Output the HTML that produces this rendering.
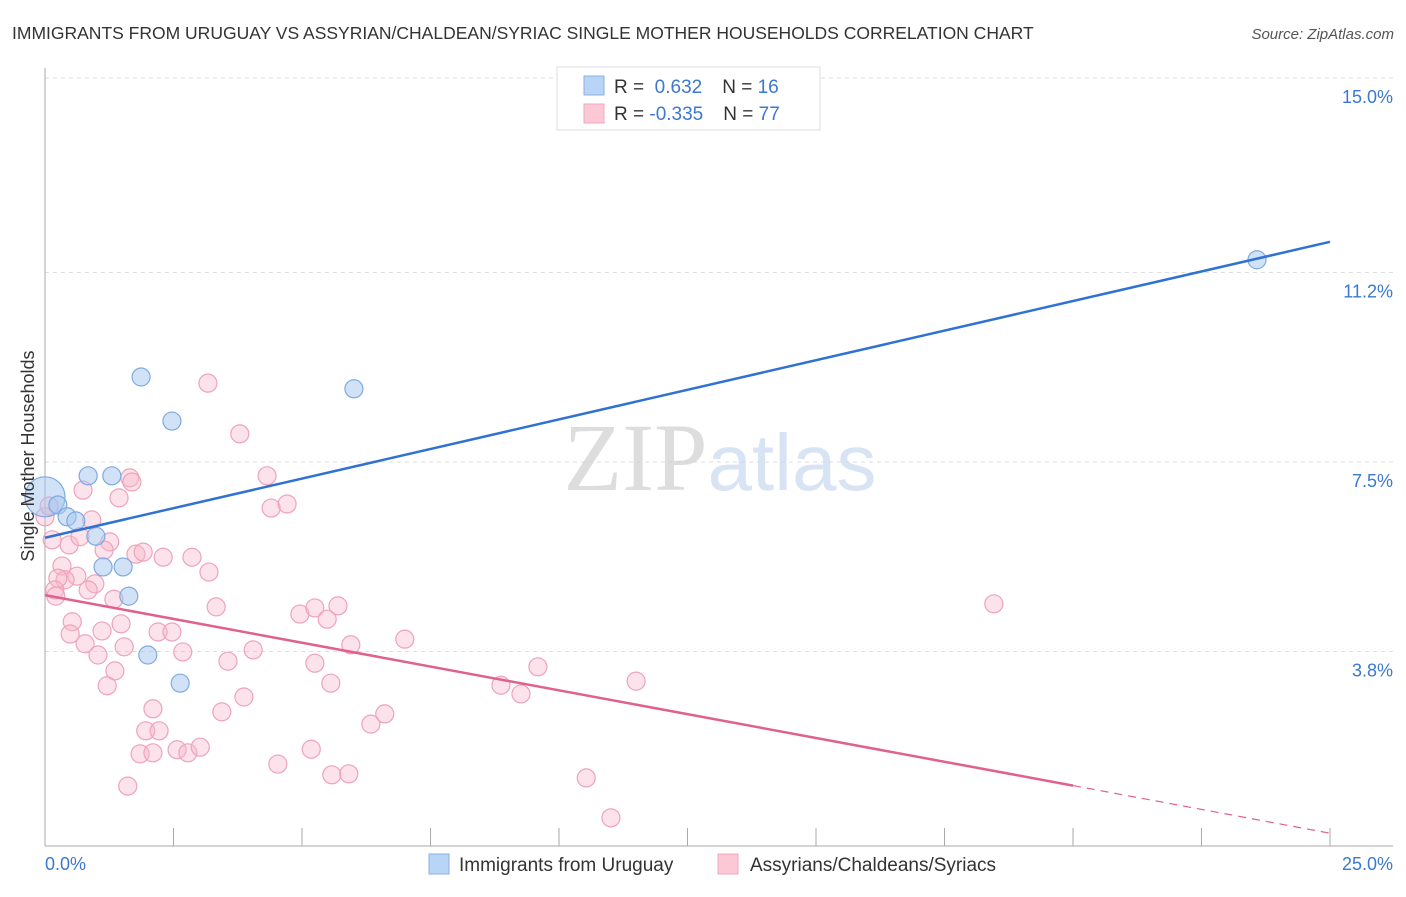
<!DOCTYPE html>
<html><head><meta charset="utf-8"><style>
body{margin:0;background:#fff;font-family:"Liberation Sans",sans-serif}
svg text{font-family:"Liberation Sans",sans-serif}
</style></head><body>
<svg id="chart" width="1406" height="892" viewBox="0 0 1406 892" xmlns="http://www.w3.org/2000/svg">
<text x="12" y="39" font-size="17.5" fill="#333">IMMIGRANTS FROM URUGUAY VS ASSYRIAN/CHALDEAN/SYRIAC SINGLE MOTHER HOUSEHOLDS CORRELATION CHART</text>
<text x="1394" y="39" font-size="15" fill="#555" text-anchor="end" font-style="italic">Source: ZipAtlas.com</text>
<g id="grid"></g>
<g id="axes"></g>
<text x="720" y="490" font-size="96" text-anchor="middle" fill="#ddd" opacity="0.7"><tspan font-family="Liberation Serif" fill="#d0d0d0">ZIP</tspan><tspan fill="#c8daf0" font-size="80">atlas</tspan></text>
<g id="pinkPts"></g>
<g id="bluePts"></g>
<g id="lines"></g>
<text transform="translate(34,456) rotate(-90)" font-size="18" fill="#333" text-anchor="middle">Single Mother Households</text>
<g>
<rect x="557" y="67" width="263" height="63" fill="#fff" stroke="#ddd"/>
<rect x="584" y="76" width="20" height="19" fill="#b8d4f6" stroke="#8ab0e0"/>
<rect x="584" y="104" width="20" height="19" fill="#fcc8d6" stroke="#f0a8bc"/>
<text x="614" y="93" font-size="19" fill="#333">R = <tspan fill="#3b78d0">&#160;0.632</tspan><tspan dx="20">N = </tspan><tspan fill="#3b78d0">16</tspan></text>
<text x="614" y="120" font-size="19" fill="#333">R = <tspan fill="#3b78d0">-0.335</tspan><tspan dx="20">N = </tspan><tspan fill="#3b78d0">77</tspan></text>
</g>
<g>
<rect x="429" y="854" width="20" height="20" fill="#b8d4f6" stroke="#8ab0e0"/>
<text x="459" y="871" font-size="19" fill="#333">Immigrants from Uruguay</text>
<rect x="718" y="854" width="20" height="20" fill="#fcc8d6" stroke="#f0a8bc"/>
<text x="750" y="871" font-size="19" fill="#333">Assyrians/Chaldeans/Syriacs</text>
</g>
</svg>
<script>
const yTicks=[3.8,7.5,11.2,15.0];
const yTickLabels=["3.8%","7.5%","11.2%","15.0%"];
const xTicks=[0,2.5,5,7.5,10,12.5,15,17.5,20,22.5,25];
const blueX=[0,0.25,0.43,0.60,0.99,0.84,1.30,1.13,1.52,1.63,1.87,2.00,2.47,2.63,6.01,23.58];
const blueY=[6.82,6.66,6.43,6.35,6.05,7.23,7.23,5.45,5.45,4.88,9.16,3.73,8.30,3.18,8.93,11.45];
const blueR=[20,9,9,9,9,9,9,9,9,9,9,9,9,9,9,9];
const pinkX=[3.17,3.79,4.32,4.40,4.71,1.65,1.69,0.74,1.44,0.91,0.14,0.47,0.68,1.26,1.15,1.77,1.91,2.30,2.86,3.19,0.33,0.62,0.39,0.25,0.97,0.84,0.19,0.21,1.34,0.53,0.49,1.11,1.48,0.78,1.03,1.54,2.20,2.47,2.68,3.33,3.56,4.05,4.96,5.25,5.49,5.70,5.95,7.00,5.25,5.56,3.87,3.44,2.10,1.96,2.22,1.21,1.36,1.85,2.10,2.57,2.78,3.02,4.53,5.18,5.58,5.91,6.34,6.61,8.87,9.26,9.59,11.50,18.46,10.53,11.01,1.61,0,0.08];
const pinkY=[9.04,8.05,7.23,6.60,6.68,7.19,7.11,6.95,6.80,6.37,5.98,5.88,6.04,5.94,5.78,5.70,5.74,5.64,5.64,5.35,5.47,5.27,5.20,5.23,5.12,5.00,5.00,4.88,4.82,4.38,4.14,4.20,4.34,3.95,3.73,3.89,4.18,4.18,3.79,4.67,3.61,3.83,4.53,4.65,4.43,4.69,3.93,4.04,3.57,3.18,2.91,2.62,2.68,2.25,2.25,3.13,3.42,1.80,1.82,1.88,1.82,1.93,1.60,1.89,1.39,1.41,2.38,2.58,3.14,2.97,3.50,3.22,4.73,1.33,0.55,1.17,6.43,6.64];
const blueLine=[[0,6.02],[25,11.80]];
const pinkLine=[[0,4.90],[20,1.18]];
const pinkDash=[[20,1.18],[25,0.25]];
const X=v=>45+v*51.4, Y=v=>846-v*51.2;
const NS="http://www.w3.org/2000/svg";
function mk(t,a,p){const e=document.createElementNS(NS,t);for(const k in a)e.setAttribute(k,a[k]);p.appendChild(e);return e;}
const grid=document.getElementById('grid'),axes=document.getElementById('axes');
yTicks.forEach((t,i)=>{
 const g=mk('line',{x1:45,x2:1393,y1:Y(t),y2:Y(t),stroke:'#ddd','stroke-dasharray':'4,4'},grid);
 
 
 const l=mk('text',{x:1393,y:Y(t)+25,'font-size':18,fill:'#3b78d0','text-anchor':'end'},axes);
 l.textContent=yTickLabels[i];
 
 
});
const ax=mk('line',{x1:45,x2:45,y1:68,y2:846,stroke:'#aaa'},axes);


const bx=mk('line',{x1:45,x2:1393,y1:846,y2:846,stroke:'#aaa'},axes);


xTicks.forEach(t=>{const k=mk('line',{x1:X(t),x2:X(t),y1:828,y2:846,stroke:'#aaa'},axes);
 
 });
const x0=mk('text',{x:45,y:870,'font-size':18,fill:'#3b78d0'},axes);x0.textContent='0.0%';


const x1=mk('text',{x:1393,y:870,'font-size':18,fill:'#3b78d0','text-anchor':'end'},axes);x1.textContent='25.0%';


const pp=document.getElementById('pinkPts');
pinkX.forEach((v,i)=>{const c=mk('circle',{cx:X(v),cy:Y(pinkY[i]),r:9,fill:'rgba(248,182,202,0.4)',stroke:'#eea3ba','stroke-width':1.2},pp);
 
 });
const bp=document.getElementById('bluePts');
blueX.forEach((v,i)=>{const c=mk('circle',{cx:X(v),cy:Y(blueY[i]),r:blueR[i],fill:'rgba(164,198,240,0.5)',stroke:'#7eaae0','stroke-width':1.2},bp);
 
 });
const ln=document.getElementById('lines');
const b=mk('line',{x1:X(blueLine[0][0]),y1:Y(blueLine[0][1]),x2:X(blueLine[1][0]),y2:Y(blueLine[1][1]),stroke:'#2f72d2','stroke-width':2.5},ln);


const p=mk('line',{x1:X(pinkLine[0][0]),y1:Y(pinkLine[0][1]),x2:X(pinkLine[1][0]),y2:Y(pinkLine[1][1]),stroke:'#e0608e','stroke-width':2.5},ln);


const pd=mk('line',{x1:X(pinkDash[0][0]),y1:Y(pinkDash[0][1]),x2:X(pinkDash[1][0]),y2:Y(pinkDash[1][1]),stroke:'#e0608e','stroke-width':1.2,'stroke-dasharray':'8,6'},ln);


</script>
</body></html>
